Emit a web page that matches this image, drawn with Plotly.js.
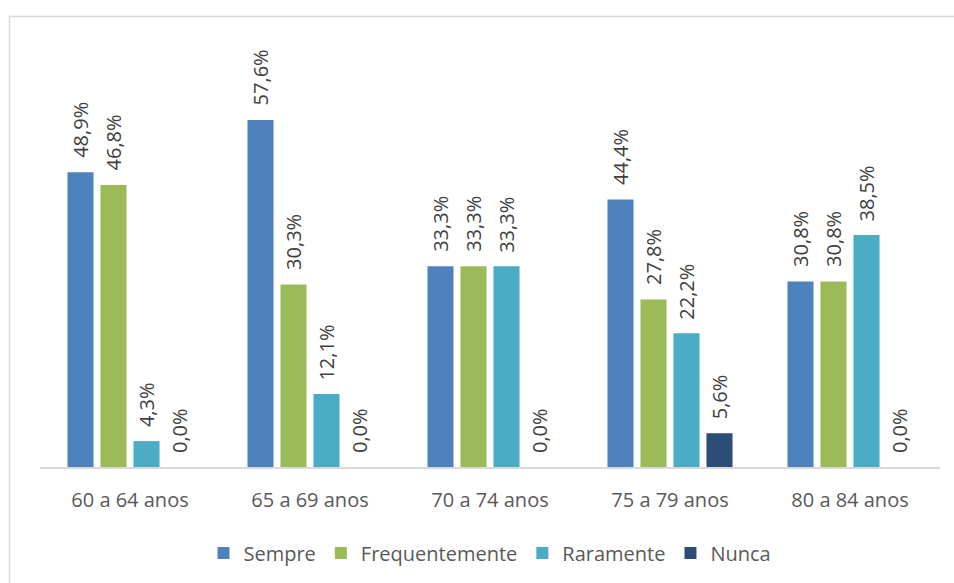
<!DOCTYPE html>
<html>
<head>
<meta charset="utf-8">
<script src="https://cdn.plot.ly/plotly-3.0.1.min.js"></script>
<style>
  html, body { margin: 0; padding: 0; background: #fff; }
  #chart { width: 954px; height: 583px; }
</style>
</head>
<body>
<div id="chart"></div>
<script>
// Age groups and answer frequencies (%)
const categories = ['60 a 64 anos', '65 a 69 anos', '70 a 74 anos', '75 a 79 anos', '80 a 84 anos'];
const seriesNames = ['Sempre', 'Frequentemente', 'Raramente', 'Nunca'];
const sempre = [48.9, 57.6, 33.3, 44.4, 30.8];
const frequentemente = [46.8, 30.3, 33.3, 27.8, 30.8];
const raramente = [4.3, 12.1, 33.3, 22.2, 38.5];
const nunca = [0.0, 0.0, 0.0, 5.6, 0.0];
const colors = ['#4F81BD', '#9BBB59', '#4BACC6', '#2C4D75'];

const seriesValues = [sempre, frequentemente, raramente, nunca];

const W = 954, H = 583;
const margin = { l: 40, r: 14, t: 30, b: 115 };
const plotW = W - margin.l - margin.r;
const plotH = H - margin.t - margin.b;
const bargap = 0.2667;
const bargroupgap = 0.21;
const font = '"Open Sans", "DejaVu Sans", sans-serif';

const fmt = v => v.toFixed(1).replace('.', ',') + '%';

const traces = seriesValues.map((vals, i) => ({
  type: 'bar',
  name: seriesNames[i],
  x: categories,
  y: vals,
  marker: { color: colors[i] },
  hoverinfo: 'skip'
}));

// Rotated value labels above each bar
const catPx = plotW / categories.length;
const slotPx = catPx * (1 - bargap) / seriesValues.length;
const annotations = [];
seriesValues.forEach((vals, i) => {
  vals.forEach((v, j) => {
    annotations.push({
      x: categories[j],
      y: v,
      xref: 'x', yref: 'y',
      text: fmt(v),
      textangle: -90,
      showarrow: false,
      xanchor: 'center',
      yanchor: 'bottom',
      xshift: (i - (seriesValues.length - 1) / 2) * slotPx,
      yshift: 12,
      font: { family: font, size: 20, color: '#404040' }
    });
  });
});

// Chart frame (left and top edges)
const fx = (9.5 - margin.l) / plotW;
const fy = (H - margin.b - 16.5) / plotH;
const shapes = [{
  type: 'path',
  xref: 'paper', yref: 'paper',
  path: `M ${fx},-0.4 L ${fx},${fy} L 1.1,${fy}`,
  line: { color: '#D9D9D9', width: 1.5 }
}];

const layout = {
  width: W, height: H,
  margin: margin,
  paper_bgcolor: '#fff',
  plot_bgcolor: '#fff',
  barmode: 'group',
  bargap: bargap,
  bargroupgap: bargroupgap,
  font: { family: font, size: 20, color: '#595959' },
  xaxis: {
    type: 'category',
    showline: true,
    linecolor: '#D9D9D9',
    linewidth: 1.5,
    showgrid: false,
    zeroline: false,
    ticks: 'outside',
    ticklen: 14,
    tickcolor: 'rgba(0,0,0,0)',
    tickfont: { family: font, size: 20, color: '#595959' }
  },
  yaxis: {
    range: [0, plotH / 6.04],
    visible: false,
    showgrid: false,
    zeroline: false
  },
  showlegend: true,
  legend: {
    orientation: 'h',
    x: 0.5, xanchor: 'center',
    y: (H - margin.b - 553) / plotH, yanchor: 'middle',
    font: { family: font, size: 20, color: '#595959' },
    itemclick: false
  },
  annotations: annotations,
  shapes: shapes
};

Plotly.newPlot('chart', traces, layout, { displayModeBar: false, staticPlot: true });
</script>
</body>
</html>
